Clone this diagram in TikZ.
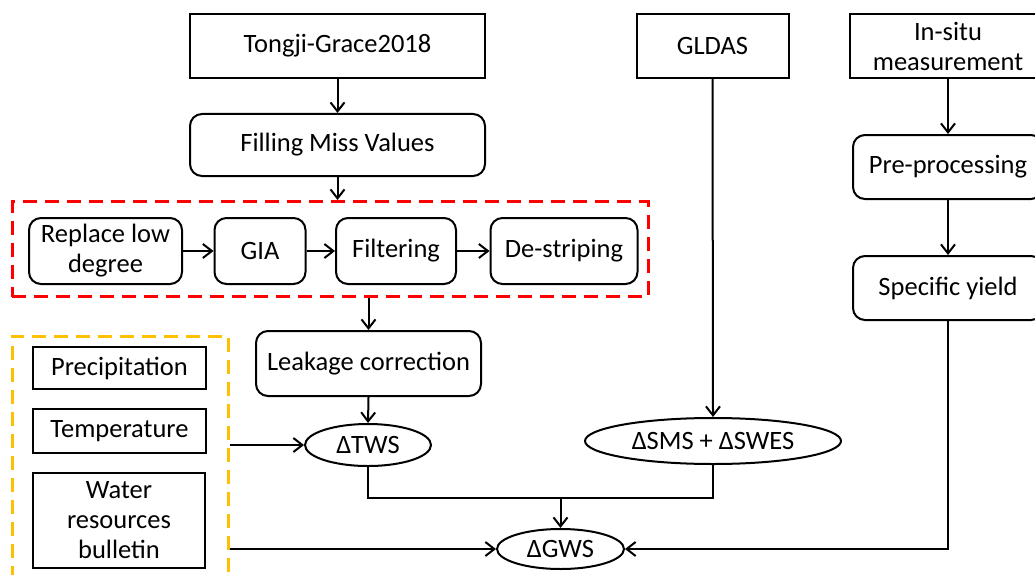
\documentclass[tikz,border=0pt]{standalone}
\usepackage{fontspec}
\setmainfont{Carlito}
\usetikzlibrary{shapes.geometric,arrows.meta}
\definecolor{redd}{HTML}{FF0000}
\definecolor{orng}{HTML}{FFC000}
\begin{document}
\begin{tikzpicture}[x=1pt,y=-1pt,
  every node/.style={font=\fontsize{26.5}{30}\selectfont, align=center, inner sep=0pt, line width=2pt},
  sq/.style={draw, rectangle},
  rb/.style={draw, rectangle, rounded corners=12pt},
  el/.style={draw, ellipse},
  grp/.style={draw, rectangle, line width=3pt, dash pattern=on 14pt off 8pt},
  conn/.style={line width=2pt},
  arr/.style={line width=2pt, -{Straight Barb[length=9pt,width=14pt,line width=2pt]}}]
\useasboundingbox (0,0) rectangle (1035,575);
% group boxes
\node[grp, draw=redd, minimum width=636pt, minimum height=95pt] (redbox) at (330,249) {};
\node[grp, draw=orng, minimum width=216pt, minimum height=240pt] (orbox) at (120,456) {};
% left column
\node[sq, minimum width=295pt, minimum height=64pt] (tg) at (337.5,46) {Tongji-Grace2018};
\node[rb, minimum width=295pt, minimum height=62pt] (fill) at (337.5,145) {Filling Miss Values};
\node[rb, minimum width=153pt, minimum height=66pt] (rep) at (105.5,251) {Replace low\\degree};
\node[rb, minimum width=91pt, minimum height=66pt] (gia) at (260,251) {GIA};
\node[rb, minimum width=120pt, minimum height=66pt] (filt) at (396,251) {Filtering};
\node[rb, minimum width=147pt, minimum height=66pt] (des) at (564,251) {De-striping};
\node[rb, minimum width=225pt, minimum height=65pt] (leak) at (368.5,363.5) {Leakage correction};
\node[el, minimum width=126pt, minimum height=42pt] (tws) at (368,445) {ΔTWS};
% inputs
\node[sq, minimum width=173pt, minimum height=42pt] (prec) at (119.5,368) {Precipitation};
\node[sq, minimum width=173pt, minimum height=44pt] (temp) at (119.5,431) {Temperature};
\node[sq, minimum width=172pt, minimum height=95pt] (water) at (119,520.5) {Water\\resources\\bulletin};
% GLDAS
\node[sq, minimum width=152pt, minimum height=64pt] (gldas) at (712.5,46) {GLDAS};
\node[el, minimum width=256pt, minimum height=46pt] (sms) at (713,441) {ΔSMS + ΔSWES};
% in-situ
\node[sq, minimum width=196pt, minimum height=64pt] (insitu) at (948,46) {In-situ\\measurement};
\node[rb, minimum width=190pt, minimum height=64pt] (pre) at (948,167) {Pre-processing};
\node[rb, minimum width=190pt, minimum height=64pt] (spec) at (948,288) {Specific yield};
% result
\node[el, minimum width=127pt, minimum height=40pt] (gws) at (560.5,549) {ΔGWS};
% connectors
\draw[arr] (tg.south) -- (fill.north);
\draw[arr] (fill.south) -- (fill.south |- redbox.north);
\draw[arr] (rep.east) -- (gia.west);
\draw[arr] (gia.east) -- (filt.west);
\draw[arr] (filt.east) -- (des.west);
\draw[arr] (leak.north |- redbox.south) -- (leak.north);
\draw[arr] (leak.south) -- (tws.north);
\draw[arr] (orbox.east |- tws.west) -- (tws.west);
\draw[arr] (orbox.east |- gws.west) -- (gws.west);
\coordinate (jn) at (560.5,498);
\draw[conn] (tws.south) -- (tws.south |- jn) -- (sms.south |- jn) -- (sms.south);
\draw[arr] (jn) -- (gws.north);
\draw[arr] (gldas.south) -- (sms.north);
\draw[arr] (insitu.south) -- (pre.north);
\draw[arr] (pre.south) -- (spec.north);
\draw[arr] (spec.south) |- (gws.east);
\end{tikzpicture}
\end{document}
